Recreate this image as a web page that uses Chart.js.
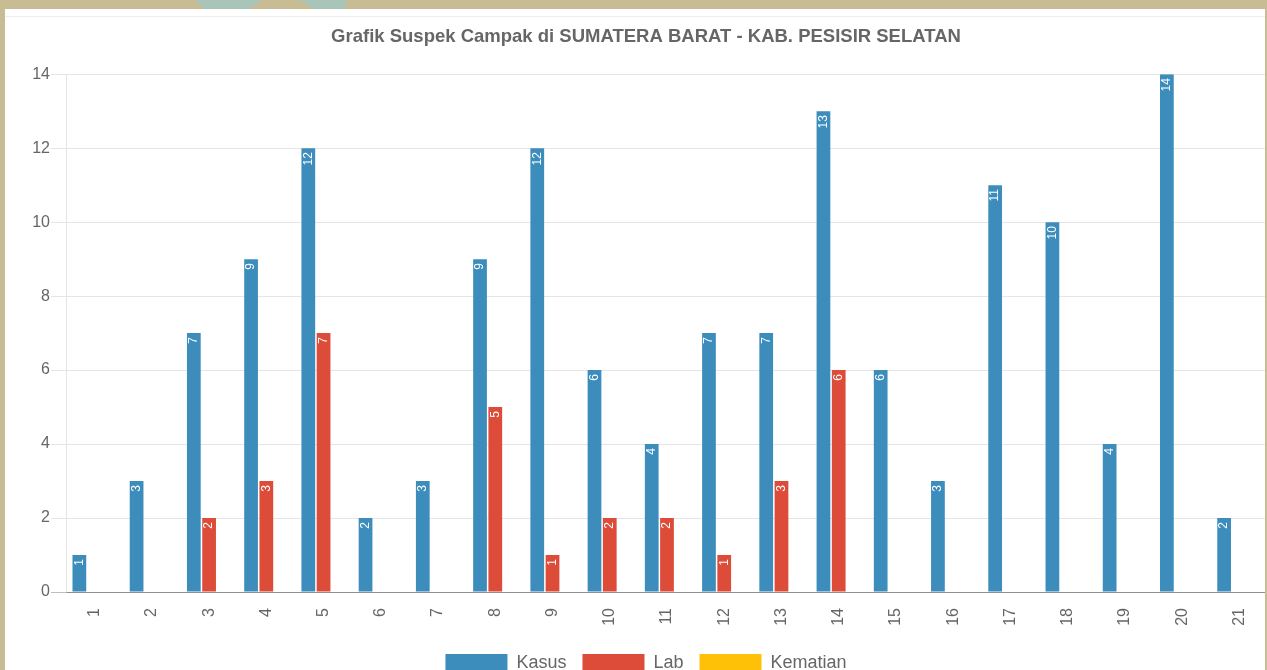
<!DOCTYPE html>
<html>
<head>
<meta charset="utf-8">
<script src="https://cdn.jsdelivr.net/npm/chart.js@4/dist/chart.umd.min.js"></script>
<style>
  html, body { margin: 0; padding: 0; overflow: hidden; }
  body { width: 1267px; height: 670px; background: #c7bc94; position: relative; }
  .deco { position: absolute; top: 0; height: 9px; background: #a9c5b9; }
  #panel { position: absolute; left: 5px; top: 9px; width: 1260px; height: 661px; background: #fff; overflow: hidden; }
  #panel .hr { position: absolute; left: 0; right: 0; top: 7px; border-top: 1px solid #eeeeee; }
  #chart { position: absolute; left: 0; top: 8px; }
</style>
</head>
<body>
<div class="deco" style="left:196px;width:66px;clip-path:polygon(0 0,100% 0,80% 100%,12% 100%)"></div>
<div class="deco" style="left:300px;width:46px;clip-path:polygon(0 0,100% 0,100% 100%,30% 100%)"></div>
<div id="panel">
  <div class="hr"></div>
  <canvas id="chart" width="1282" height="665"></canvas>
</div>
<script>
// data
var labels = ['1','2','3','4','5','6','7','8','9','10','11','12','13','14','15','16','17','18','19','20','21'];
var kasus = [1, 3, 7, 9, 12, 2, 3, 9, 12, 6, 4, 7, 7, 13, 6, 3, 11, 10, 4, 14, 2];
var lab = [0, 0, 2, 3, 7, 0, 0, 5, 1, 2, 2, 1, 3, 6, 0, 0, 0, 0, 0, 0, 0];
var kematian = [0, 0, 0, 0, 0, 0, 0, 0, 0, 0, 0, 0, 0, 0, 0, 0, 0, 0, 0, 0, 0];

var fontFam = '"Liberation Sans", Arial, Helvetica, sans-serif';

// white rotated value labels at the top of each bar
const barLabels = {
    id: 'barLabels',
    afterDatasetsDraw(chart) {
        const ctx = chart.ctx;
        ctx.save();
        ctx.fillStyle = '#fff';
        ctx.font = '12px ' + fontFam;
        ctx.textAlign = 'right';
        ctx.textBaseline = 'middle';
        chart.data.datasets.forEach((ds, i) => {
            chart.getDatasetMeta(i).data.forEach((bar, j) => {
                const v = ds.data[j];
                if (!v) return;
                ctx.save();
                ctx.translate(bar.x, bar.y + 4);
                ctx.rotate(-Math.PI / 2);
                ctx.fillText(String(v), 0, 0);
                ctx.restore();
            });
        });
        ctx.restore();
    }
};

Chart.defaults.font.family = fontFam;
Chart.defaults.color = '#666';

var ctx = document.getElementById('chart').getContext('2d');
var chart = new Chart(ctx, {
    type: 'bar',
    data: {
        labels: labels,
        datasets: [
            { label: 'Kasus', data: kasus, backgroundColor: '#3c8dbc' },
            { label: 'Lab', data: lab, backgroundColor: '#dd4b39' },
            { label: 'Kematian', data: kematian, backgroundColor: '#ffc107' }
        ]
    },
    plugins: [barLabels],
    options: {
        responsive: false,
        animation: false,
        layout: { padding: { left: 19, right: 19, top: 0, bottom: 0 } },
        plugins: {
            title: {
                display: true,
                text: 'Grafik Suspek Campak di SUMATERA BARAT - KAB. PESISIR SELATAN',
                color: '#666',
                font: { size: 18.5, weight: 'bold' },
                padding: { top: 9, bottom: 26 }
            },
            legend: {
                position: 'bottom',
                labels: { boxWidth: 62, boxHeight: 18, font: { size: 18 }, color: '#666', padding: 16 }
            },
            tooltip: { enabled: false }
        },
        scales: {
            x: {
                grid: { display: false },
                border: { color: 'rgba(0,0,0,0.25)' },
                ticks: { minRotation: 90, maxRotation: 90, padding: 8, font: { size: 16 }, color: '#666' },
                afterFit: function (axis) { axis.height = 46; }
            },
            y: {
                min: 0,
                max: 14,
                ticks: { stepSize: 2, padding: 1, font: { size: 16 }, color: '#666' },
                grid: {
                    tickLength: 15,
                    color: function (c) { return c.tick && c.tick.value === 0 ? 'rgba(0,0,0,0.25)' : 'rgba(0,0,0,0.1)'; }
                },
                border: { color: 'rgba(0,0,0,0.1)' },
                afterFit: function (axis) { axis.width = 42; }
            }
        }
    }
});
</script>
</body>
</html>
